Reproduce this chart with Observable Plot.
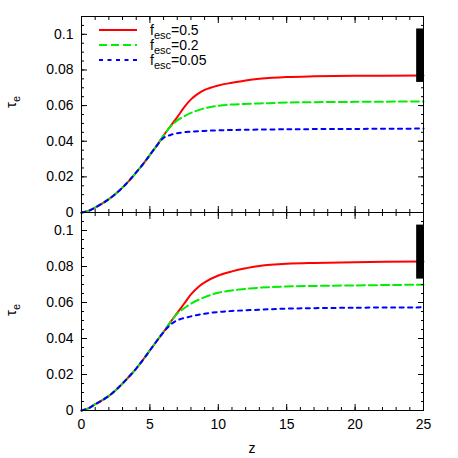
<!DOCTYPE html>
<html><head><meta charset="utf-8">
<script src="https://cdn.jsdelivr.net/npm/d3@7"></script>
<script src="https://cdn.jsdelivr.net/npm/@observablehq/plot@0.6"></script>
<style>
body{margin:0;background:#fff;}
#chart{position:relative;width:458px;height:458px;font-family:"Liberation Sans",Arial,sans-serif;background:#fff;}
#chart svg{display:block;overflow:visible;}
</style></head><body><div id="chart"></div>
<script>
// ---------- data ----------
const seriesLabels = ["0.5", "0.2", "0.05"];
const seriesColors = ["#ff0000", "#00ee00", "#0000ff"];

// top panel
const topCommonZ   = [0, 0.5, 1, 1.5, 2, 2.5, 3, 3.5, 4, 4.5, 5, 5.5];
const topCommonTau = [0, 0.0009, 0.0028, 0.005, 0.0075, 0.0105, 0.014, 0.018, 0.0225, 0.0272, 0.0323, 0.0375];
const topRedZ   = [6, 6.5, 7, 7.5, 8, 8.5, 9, 10, 11, 12, 13, 15, 17, 20, 25];
const topRedTau = [0.0432, 0.0484, 0.0535, 0.059, 0.0635, 0.0666, 0.0688, 0.0713, 0.0728, 0.0741, 0.075, 0.076, 0.0764, 0.0767, 0.0769];
const topGreenZ   = [6, 6.5, 7, 7.5, 8, 9, 10, 11, 13, 15, 20, 25];
const topGreenTau = [0.0432, 0.0482, 0.0516, 0.054, 0.0559, 0.0585, 0.0599, 0.0606, 0.0612, 0.0617, 0.0621, 0.0623];
const topBlueZ   = [6, 6.5, 7, 8, 9, 10, 11, 15, 20, 25];
const topBlueTau = [0.0419, 0.0435, 0.0445, 0.0454, 0.0458, 0.0461, 0.0463, 0.0467, 0.0469, 0.0471];

// bottom panel
const botCommonZ   = [0, 0.5, 1, 1.5, 2, 2.5, 3, 3.5, 4, 4.5, 5, 5.5, 6];
const botCommonTau = [0, 0.0012, 0.0035, 0.0056, 0.0081, 0.0113, 0.015, 0.019, 0.0233, 0.0282, 0.0334, 0.0386, 0.0436];
const botRedZ   = [6.5, 7, 7.5, 8, 8.5, 9, 10, 11, 12, 13, 15, 17, 20, 25];
const botRedTau = [0.0491, 0.0542, 0.0593, 0.0645, 0.0684, 0.0712, 0.075, 0.0773, 0.079, 0.0803, 0.0815, 0.082, 0.0824, 0.0828];
const botGreenZ   = [6.5, 7, 7.5, 8, 9, 10, 11, 13, 15, 20, 25];
const botGreenTau = [0.0491, 0.0538, 0.0568, 0.0593, 0.063, 0.0654, 0.0667, 0.0682, 0.0689, 0.0695, 0.0699];
const botBlueZ   = [6.5, 7, 8, 9, 10, 11, 13, 15, 20, 25];
const botBlueTau = [0.0476, 0.0501, 0.0523, 0.0538, 0.0547, 0.0553, 0.056, 0.0566, 0.0571, 0.0573];

// observational band (black bar at right edge)
const barZ = [24.5, 25];
const barTau = [0.073, 0.103];

// axes
const xDomain = [0, 25];
const yDomain = [0, 0.11];
const xMajorTicks = [0, 5, 10, 15, 20, 25];
const xMinorTicks = [0,1,2,3,4,5,6,7,8,9,10,11,12,13,14,15,16,17,18,19,20,21,22,23,24,25];
const yMajorTicks = [0, 0.02, 0.04, 0.06, 0.08, 0.1];
const yMinorTicks = [0,0.005,0.01,0.015,0.02,0.025,0.03,0.035,0.04,0.045,0.05,0.055,0.06,0.065,0.07,0.075,0.08,0.085,0.09,0.095,0.1,0.105,0.11];
const xLabel = "z";

// ---------- build ----------
function toPoints(zc, tc, z, t) {
  return zc.map((d, i) => ({z: d, tau: tc[i]})).concat(z.map((d, i) => ({z: d, tau: t[i]})));
}
const topSeries = [
  toPoints(topCommonZ, topCommonTau, topRedZ, topRedTau),
  toPoints(topCommonZ, topCommonTau, topGreenZ, topGreenTau),
  toPoints(topCommonZ, topCommonTau, topBlueZ, topBlueTau)
];
const botSeries = [
  toPoints(botCommonZ, botCommonTau, botRedZ, botRedTau),
  toPoints(botCommonZ, botCommonTau, botGreenZ, botGreenTau),
  toPoints(botCommonZ, botCommonTau, botBlueZ, botBlueTau)
];
const dashes = [null, "8,4", "4,4.5"];

function panel(series, bottom) {
  const marks = [];
  series.forEach((pts, i) => {
    marks.push(Plot.line(pts, {x: "z", y: "tau", stroke: seriesColors[i], strokeWidth: 2,
      strokeDasharray: dashes[i], curve: "catmull-rom"}));
  });
  marks.push(Plot.rect([{x1: barZ[0], x2: barZ[1], y1: barTau[0], y2: barTau[1]}],
    {x1: "x1", x2: "x2", y1: "y1", y2: "y2", fill: "black"}));
  marks.push(Plot.frame({stroke: "black", strokeWidth: 1}));
  for (const anchor of ["bottom", "top"]) {
    marks.push(Plot.axisX({anchor, ticks: xMinorTicks, tickSize: -3, tickFormat: () => "", stroke: "black"}));
    marks.push(Plot.axisX({anchor, ticks: xMajorTicks, tickSize: -6, tickFormat: () => "", stroke: "black"}));
  }
  for (const anchor of ["left", "right"]) {
    marks.push(Plot.axisY({anchor, ticks: yMinorTicks, tickSize: -3, tickFormat: () => "", stroke: "black"}));
    marks.push(Plot.axisY({anchor, ticks: yMajorTicks, tickSize: -6, tickFormat: () => "", stroke: "black"}));
  }
  marks.push(Plot.axisY({anchor: "left", ticks: yMajorTicks, tickSize: 0, tickPadding: 8,
    tickFormat: d => String(d), fill: "black"}));
  if (bottom) {
    marks.push(Plot.axisX({anchor: "bottom", ticks: xMajorTicks, tickSize: 0, tickPadding: 9,
      tickFormat: d => String(d), fill: "black"}));
  }
  return Plot.plot({
    width: 458,
    height: bottom ? 246 : 212,
    marginLeft: 81, marginRight: 35,
    marginTop: bottom ? 0 : 16,
    marginBottom: bottom ? 48 : 0,
    x: {domain: xDomain, axis: null},
    y: {domain: yDomain, axis: null},
    style: {fontFamily: '"Liberation Sans", Arial, sans-serif', fontSize: "14px", color: "black", background: "white", overflow: "visible"},
    marks
  });
}

const root = document.getElementById("chart");
const topSvg = panel(topSeries, false);
const botSvg = panel(botSeries, true);
root.appendChild(topSvg);
root.appendChild(botSvg);

const fontFam = '"Liberation Sans", Arial, sans-serif';
function yLabel(svg, cy) {
  const t = d3.select(svg).append("text")
    .attr("transform", `translate(16,${cy}) rotate(-90)`)
    .attr("text-anchor", "middle")
    .attr("font-family", fontFam).attr("font-size", 15).attr("fill", "black");
  t.append("tspan").text("τ");
  t.append("tspan").attr("font-size", 11).attr("dy", 4).text("e");
}
yLabel(topSvg, 102);
yLabel(botSvg, 310 - 212);

// x label
d3.select(botSvg).append("text")
  .attr("x", 252).attr("y", 453 - 212).attr("text-anchor", "middle")
  .attr("font-family", fontFam).attr("font-size", 14).attr("fill", "black").text(xLabel);

// legend
const lg = d3.select(topSvg).append("g").attr("class", "legend");
seriesLabels.forEach((lab, i) => {
  const y = 30 + i * 15;
  lg.append("line").attr("x1", 99).attr("x2", 137).attr("y1", y).attr("y2", y)
    .attr("stroke", seriesColors[i]).attr("stroke-width", 2)
    .attr("stroke-dasharray", dashes[i]);
  const t = lg.append("text").attr("x", 150).attr("y", y + 4.5)
    .attr("text-anchor", "start")
    .attr("font-family", fontFam).attr("font-size", 14).attr("fill", "black");
  t.append("tspan").text("f");
  t.append("tspan").attr("font-size", 11).attr("dy", 4).text("esc");
  t.append("tspan").attr("dy", -4).text("=" + lab);
});
</script></body></html>
